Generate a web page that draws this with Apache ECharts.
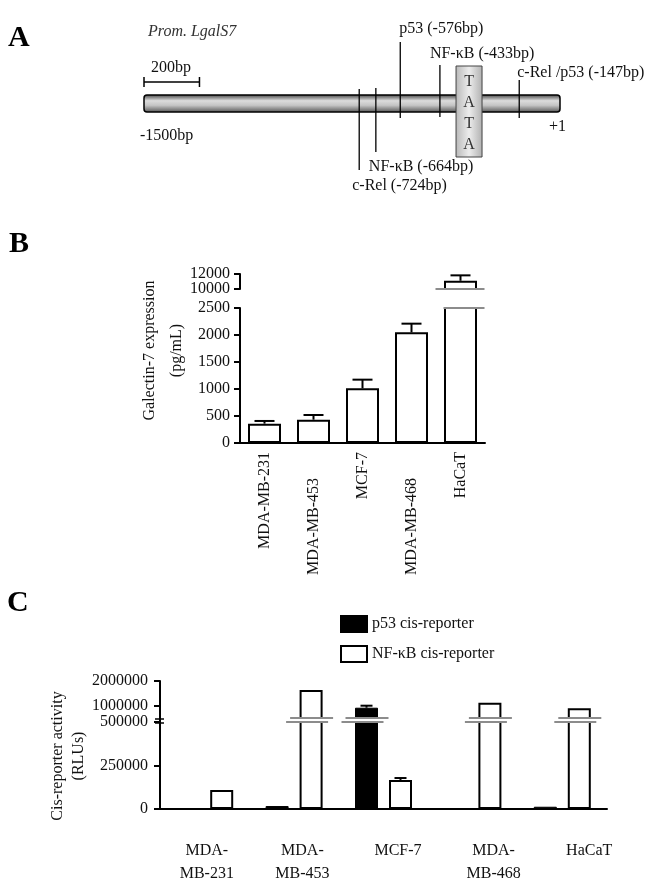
<!DOCTYPE html>
<html><head><meta charset="utf-8">
<script src="https://cdn.jsdelivr.net/npm/echarts@6/dist/echarts.min.js"></script>
<style>html,body{margin:0;padding:0;background:#fff}#c{width:653px;height:884px}</style>
</head><body><div id="c"></div>
<script>
// ---------- Panel A : promoter map (positions in bp) ----------
const promoterRange = [-1500, 0];
const promoterEndLabels = ['-1500bp', '+1'];
const promoterName = ['Prom. LgalS7'];
const scaleBarLength = [200];
const scaleBarLabel = ['200bp'];
const siteLabels = ['c-Rel (-724bp)', 'NF-κB (-664bp)', 'p53 (-576bp)', 'NF-κB (-433bp)', 'c-Rel /p53 (-147bp)'];
const sitePositions = [-724, -664, -576, -433, -147];
const tataCentre = [-328];
const tataLetters = ['T', 'A', 'T', 'A'];

// ---------- Panel B : Galectin-7 expression ----------
const cellLinesB = ['MDA-MB-231', 'MDA-MB-453', 'MCF-7', 'MDA-MB-468', 'HaCaT'];
const galectinMean = [358, 432, 1012, 2049, 11100];
const galectinErr = [50, 87, 161, 161, 720];
const galectinLowerRange = [0, 2500];
const galectinLowerStep = [500];
const galectinUpperRange = [10000, 12000];
const galectinUpperTicks = [10000, 12000];

// ---------- Panel C : cis-reporter activity ----------
const cellLinesC = ['MDA-\nMB-231', 'MDA-\nMB-453', 'MCF-7', 'MDA-\nMB-468', 'HaCaT'];
const seriesNamesC = ['p53 cis-reporter', 'NF-κB cis-reporter'];
const p53Reporter = [0, 17000, 917000, 0, 13000];
const p53ReporterErr = [0, 0, 82000, 0, 0];
const nfkbReporter = [109000, 1635000, 167000, 1120000, 893000];
const nfkbReporterErr = [0, 0, 11000, 0, 0];
const reporterLowerRange = [0, 500000];
const reporterLowerStep = [250000];
const reporterUpperRange = [500000, 2000000];
const reporterUpperTicks = [1000000, 2000000];

// ---------- styling ----------
const FONT = '"Liberation Serif", "Times New Roman", serif';
const INK = '#111';
const GREY = '#8c8c8c';
const f16 = '16px ' + FONT;

function txt(text, x, y, align, font, fill) {
  return {type: 'text', style: {text: text, x: x, y: y, font: font || f16, fill: fill || INK,
    align: align || 'left', textAlign: align || 'left', verticalAlign: 'middle', textVerticalAlign: 'middle'}};
}
function ln(x1, y1, x2, y2, w, c) {
  return {type: 'line', shape: {x1: x1, y1: y1, x2: x2, y2: y2}, style: {stroke: c || '#000', lineWidth: w || 2}};
}

// per-site annotation layout: [line top offset from bar top, line bottom offset from bar bottom, label dx, label dy from bar top]
const siteLayout = [[-6, 58, -7, 91], [-7, 40, -7, 72], [-53, 6, -1, -66], [-30, 5, -10, -41], [-15, 6, -2, -22]];

function promoterRender(params, api) {
  const s = api.coord([api.value(0), 1]);
  const e = api.coord([api.value(1), 0]);
  return {type: 'group', children: [
    {type: 'rect', shape: {x: s[0], y: s[1], width: e[0] - s[0], height: e[1] - s[1], r: 3},
      style: {fill: new echarts.graphic.LinearGradient(0, 0, 0, 1, [
        {offset: 0, color: '#3c3c3c'}, {offset: 0.35, color: '#dcdcdc'}, {offset: 0.6, color: '#c4c4c4'}, {offset: 1, color: '#505050'}]),
        stroke: '#000', lineWidth: 1.5}},
    txt(promoterName[0], s[0] + 4, s[1] - 63, 'left', 'italic 16px ' + FONT, '#333'),
    txt(promoterEndLabels[0], s[0] - 4, e[1] + 24, 'left'),
    txt(promoterEndLabels[1], e[0] - 11, e[1] + 15, 'left')
  ]};
}
function scaleRender(params, api) {
  const a = api.coord([api.value(0), 1]);
  const b = api.coord([api.value(1), 1]);
  const y = a[1] - 13;
  return {type: 'group', children: [
    ln(a[0], y, b[0], y, 1.5), ln(a[0], y - 5, a[0], y + 5, 1.5), ln(b[0], y - 5, b[0], y + 5, 1.5),
    txt(scaleBarLabel[0], a[0] + 7, a[1] - 27, 'left')
  ]};
}
function siteRender(params, api) {
  const i = params.dataIndex;
  const L = siteLayout[i];
  const x = api.coord([api.value(0), 0])[0];
  const yT = api.coord([0, 1])[1], yB = api.coord([0, 0])[1];
  return {type: 'group', children: [
    ln(x, yT + L[0], x, yB + L[1], 1.3),
    txt(siteLabels[i], x + L[2], yT + L[3], 'left')
  ]};
}
function tataRender(params, api) {
  const x = api.coord([api.value(0), 0])[0];
  const yT = api.coord([0, 1])[1], yB = api.coord([0, 0])[1];
  const ch = [{type: 'rect', shape: {x: x - 13, y: yT - 29, width: 26, height: yB + 45 - (yT - 29)},
    style: {fill: new echarts.graphic.LinearGradient(0, 0, 1, 0, [
      {offset: 0, color: '#b8b8b8'}, {offset: 0.5, color: '#ececec'}, {offset: 1, color: '#b0b0b0'}]),
      stroke: '#444', lineWidth: 1}}];
  tataLetters.forEach((t, k) => ch.push(txt(t, x, yT - 13 + k * 21, 'center', f16, '#333')));
  return {type: 'group', children: ch};
}

function errRender(offset, capHalf) {
  return function (params, api) {
    const i = api.value(0), v = api.value(1), e = api.value(2);
    const p0 = api.coord([i, v]), p1 = api.coord([i, v + e]);
    const x = p0[0] + offset;
    return {type: 'group', children: [ln(x, p0[1], x, p1[1], 2), ln(x - capHalf, p1[1], x + capHalf, p1[1], 2)]};
  };
}
function breakRender(offset, dl, dr) {
  return function (params, api) {
    const p = api.coord([api.value(0), api.value(1)]);
    const x = p[0] + offset;
    return ln(x - dl, p[1], x + dr, p[1], 2, GREY);
  };
}
function axisBreakRender(params, api) {
  const x = params.coordSys.x;
  const y = api.coord([0, api.value(1)])[1];
  return {type: 'group', children: [ln(x, y - 4, x, y, 2), ln(x - 5, y - 3, x + 4, y - 3, 1.5), ln(x - 5, y + 1, x + 4, y + 1, 1.5)]};
}

const plain = v => String(v);
const axisTextB = {fontFamily: FONT, fontSize: 16, color: INK};

// derived series data
const bUpper = galectinMean.map(v => v >= galectinUpperRange[0] ? v : '-');
const bErrLower = [], bErrUpper = [], bBreakLower = [], bBreakUpper = [];
galectinMean.forEach((v, i) => {
  if (v > galectinLowerRange[1]) { bBreakLower.push([i, galectinLowerRange[1]]); bBreakUpper.push([i, galectinUpperRange[0]]); }
  if (v >= galectinUpperRange[0]) bErrUpper.push([i, v, galectinErr[i]]);
  else bErrLower.push([i, v, galectinErr[i]]);
});
function splitC(vals, errs) {
  const r = {upper: [], errL: [], errU: [], brL: [], brU: []};
  vals.forEach((v, i) => {
    r.upper.push(v >= reporterUpperRange[0] ? v : '-');
    if (v > reporterLowerRange[1]) { r.brL.push([i, reporterLowerRange[1]]); r.brU.push([i, reporterUpperRange[0]]); }
    if (errs[i] > 0) { if (v >= reporterUpperRange[0]) r.errU.push([i, v, errs[i]]); else r.errL.push([i, v, errs[i]]); }
  });
  return r;
}
const cP = splitC(p53Reporter, p53ReporterErr);
const cN = splitC(nfkbReporter, nfkbReporterErr);
const BW_C = 23, GAP_C = 11;
const OFF = (BW_C + GAP_C) / 2;

const barB = {type: 'bar', barWidth: 33, itemStyle: {color: '#fff', borderColor: '#000', borderWidth: 2}, clip: true};
const p53Style = {color: '#000', borderColor: '#000', borderWidth: 1};
const nfStyle = {color: '#fff', borderColor: '#000', borderWidth: 2};
const yLabel = (m) => ({margin: m, formatter: plain, showMinLabel: true, showMaxLabel: true, hideOverlap: false, ...axisTextB});
const tickStyle = {show: true, length: 6, lineStyle: {color: '#000', width: 2}};

const option = {
  animation: false,
  backgroundColor: '#fff',
  textStyle: {fontFamily: FONT},
  graphic: [
    {type: 'text', x: 8, y: 38, style: {text: 'A', font: 'bold 30px ' + FONT, fill: '#000', verticalAlign: 'middle', textVerticalAlign: 'middle'}},
    {type: 'text', x: 9, y: 244, style: {text: 'B', font: 'bold 30px ' + FONT, fill: '#000', verticalAlign: 'middle', textVerticalAlign: 'middle'}},
    {type: 'text', x: 7, y: 603, style: {text: 'C', font: 'bold 30px ' + FONT, fill: '#000', verticalAlign: 'middle', textVerticalAlign: 'middle'}}
  ],
  legend: {
    orient: 'vertical', left: 340, top: 615, padding: 0, itemGap: 12, itemWidth: 26, itemHeight: 16, icon: 'rect',
    selectedMode: false, data: seriesNamesC,
    textStyle: {fontFamily: FONT, fontSize: 16, color: INK}
  },
  grid: [
    {left: 144, top: 95, width: 416, height: 17, outerBoundsMode: 'none'},
    {left: 240, top: 274, width: 245, height: 15, outerBoundsMode: 'none'},
    {left: 240, top: 308, width: 245, height: 135, outerBoundsMode: 'none'},
    {left: 160, top: 681, width: 447, height: 37, outerBoundsMode: 'none'},
    {left: 160, top: 722, width: 447, height: 87, outerBoundsMode: 'none'},
    {left: 159, top: 722, width: 478, height: 87, outerBoundsMode: 'none'}
  ],
  xAxis: [
    {type: 'value', gridIndex: 0, min: promoterRange[0], max: promoterRange[1], show: false},
    {type: 'category', gridIndex: 1, data: cellLinesB, show: false},
    {type: 'category', gridIndex: 2, position: 'bottom', data: cellLinesB,
      axisLine: {lineStyle: {color: '#000', width: 2}}, axisTick: {show: false},
      axisLabel: {rotate: 90, margin: 9, interval: (i) => i % 2 === 0, ...axisTextB}},
    {type: 'category', gridIndex: 2, position: 'bottom', offset: 0, data: cellLinesB,
      axisLine: {show: false}, axisTick: {show: false},
      axisLabel: {rotate: 90, margin: 35, interval: (i) => i % 2 === 1, ...axisTextB}},
    {type: 'category', gridIndex: 3, data: cellLinesC, show: false},
    {type: 'category', gridIndex: 4, data: cellLinesC,
      axisLine: {lineStyle: {color: '#000', width: 2}},
      axisTick: {alignWithLabel: true, interval: 0, length: 6, lineStyle: {color: '#000', width: 2}},
      axisLabel: {show: false}},
    {type: 'category', gridIndex: 5, data: cellLinesC,
      axisLine: {show: false}, axisTick: {show: false},
      axisLabel: {margin: 30, interval: 0, lineHeight: 23, ...axisTextB}}
  ],
  yAxis: [
    {type: 'value', gridIndex: 0, min: 0, max: 1, show: false},
    // upper segment of panel B: top tick/label (12000) + bracket line
    {type: 'value', gridIndex: 1, position: 'left', min: galectinUpperRange[0], max: galectinUpperRange[1], interval: 2000,
      splitLine: {show: false}, axisLine: {show: true, lineStyle: {color: '#000', width: 2}},
      axisTick: {...tickStyle, customValues: [galectinUpperTicks[1]]},
      axisLabel: {...yLabel(10), customValues: [galectinUpperTicks[1]]}},
    {type: 'value', gridIndex: 2, min: galectinLowerRange[0], max: galectinLowerRange[1], interval: galectinLowerStep[0],
      splitLine: {show: false}, axisLine: {show: true, lineStyle: {color: '#000', width: 2}},
      axisTick: tickStyle,
      axisLabel: yLabel(10),
      name: 'Galectin-7 expression\n(pg/mL)', nameLocation: 'middle', nameRotate: 90, nameGap: 50,
      nameTextStyle: {fontFamily: FONT, fontSize: 16, color: INK, lineHeight: 27, padding: [0, 0, 0, 50]}},
    {type: 'value', gridIndex: 3, min: reporterUpperRange[0], max: reporterUpperRange[1], interval: 500000,
      splitLine: {show: false}, axisLine: {show: true, lineStyle: {color: '#000', width: 2}},
      axisTick: {...tickStyle, customValues: reporterUpperTicks},
      axisLabel: {...yLabel(12), customValues: reporterUpperTicks}},
    {type: 'value', gridIndex: 4, min: reporterLowerRange[0], max: reporterLowerRange[1], interval: reporterLowerStep[0],
      splitLine: {show: false}, axisLine: {show: true, lineStyle: {color: '#000', width: 2}},
      axisTick: tickStyle,
      axisLabel: yLabel(12),
      name: 'Cis-reporter activity\n(RLUs)', nameLocation: 'middle', nameRotate: 90, nameGap: 61,
      nameTextStyle: {fontFamily: FONT, fontSize: 16, color: INK, lineHeight: 21, padding: [0, 0, 0, 19]}},
    {type: 'value', gridIndex: 5, show: false},
    // upper segment of panel B: bottom tick/label (10000)
    {type: 'value', gridIndex: 1, position: 'left', offset: 0, min: galectinUpperRange[0], max: galectinUpperRange[1], interval: 2000,
      splitLine: {show: false}, axisLine: {show: false},
      axisTick: {...tickStyle, customValues: [galectinUpperTicks[0]]},
      axisLabel: {...yLabel(10), customValues: [galectinUpperTicks[0]]}}
  ],
  series: [
    // Panel A
    {type: 'custom', xAxisIndex: 0, yAxisIndex: 0, renderItem: promoterRender, data: [[promoterRange[0], promoterRange[1]]], encode: {x: [0, 1]}, z: 1},
    {type: 'custom', xAxisIndex: 0, yAxisIndex: 0, renderItem: scaleRender, data: [[promoterRange[0], promoterRange[0] + scaleBarLength[0]]], encode: {x: [0, 1]}, z: 2},
    {type: 'custom', xAxisIndex: 0, yAxisIndex: 0, renderItem: siteRender, data: sitePositions.map(p => [p]), encode: {x: 0}, z: 3},
    {type: 'custom', xAxisIndex: 0, yAxisIndex: 0, renderItem: tataRender, data: [tataCentre], encode: {x: 0}, z: 4},
    // Panel B
    {...barB, xAxisIndex: 1, yAxisIndex: 1, data: bUpper},
    {...barB, xAxisIndex: 2, yAxisIndex: 2, data: galectinMean},
    {type: 'custom', xAxisIndex: 1, yAxisIndex: 1, renderItem: errRender(0, 10), data: bErrUpper, encode: {x: 0, y: 1}, z: 5},
    {type: 'custom', xAxisIndex: 2, yAxisIndex: 2, renderItem: errRender(0, 10), data: bErrLower, encode: {x: 0, y: 1}, z: 5},
    {type: 'custom', xAxisIndex: 1, yAxisIndex: 1, renderItem: breakRender(0, 25, 24), data: bBreakUpper, encode: {x: 0, y: 1}, z: 6},
    {type: 'custom', xAxisIndex: 2, yAxisIndex: 2, renderItem: breakRender(0, 17, 24), data: bBreakLower, encode: {x: 0, y: 1}, z: 6},
    // Panel C
    {type: 'bar', name: seriesNamesC[0], xAxisIndex: 4, yAxisIndex: 3, barWidth: BW_C, barGap: (GAP_C / BW_C * 100) + '%', itemStyle: p53Style, data: cP.upper},
    {type: 'bar', name: seriesNamesC[1], xAxisIndex: 4, yAxisIndex: 3, barWidth: BW_C, itemStyle: nfStyle, data: cN.upper},
    {type: 'bar', name: seriesNamesC[0], xAxisIndex: 5, yAxisIndex: 4, barWidth: BW_C, barGap: (GAP_C / BW_C * 100) + '%', itemStyle: p53Style, data: p53Reporter},
    {type: 'bar', name: seriesNamesC[1], xAxisIndex: 5, yAxisIndex: 4, barWidth: BW_C, itemStyle: nfStyle, data: nfkbReporter},
    {type: 'custom', xAxisIndex: 4, yAxisIndex: 3, renderItem: errRender(-OFF, 6), data: cP.errU, encode: {x: 0, y: 1}, z: 5},
    {type: 'custom', xAxisIndex: 5, yAxisIndex: 4, renderItem: errRender(-OFF, 6), data: cP.errL, encode: {x: 0, y: 1}, z: 5},
    {type: 'custom', xAxisIndex: 4, yAxisIndex: 3, renderItem: errRender(OFF, 6), data: cN.errU, encode: {x: 0, y: 1}, z: 5},
    {type: 'custom', xAxisIndex: 5, yAxisIndex: 4, renderItem: errRender(OFF, 6), data: cN.errL, encode: {x: 0, y: 1}, z: 5},
    {type: 'custom', xAxisIndex: 4, yAxisIndex: 3, renderItem: breakRender(-OFF, 21, 22), data: cP.brU, encode: {x: 0, y: 1}, z: 6},
    {type: 'custom', xAxisIndex: 5, yAxisIndex: 4, renderItem: breakRender(-OFF, 25, 17), data: cP.brL, encode: {x: 0, y: 1}, z: 6},
    {type: 'custom', xAxisIndex: 4, yAxisIndex: 3, renderItem: breakRender(OFF, 21, 22), data: cN.brU, encode: {x: 0, y: 1}, z: 6},
    {type: 'custom', xAxisIndex: 5, yAxisIndex: 4, renderItem: breakRender(OFF, 25, 17), data: cN.brL, encode: {x: 0, y: 1}, z: 6},
    {type: 'custom', xAxisIndex: 5, yAxisIndex: 4, renderItem: axisBreakRender, data: [[0, reporterLowerRange[1]]], encode: {x: 0, y: 1}, z: 6}
  ]
};
const chart = echarts.init(document.getElementById('c'), null, {renderer: 'canvas', width: 653, height: 884});
chart.setOption(option);
</script>
</body></html>
